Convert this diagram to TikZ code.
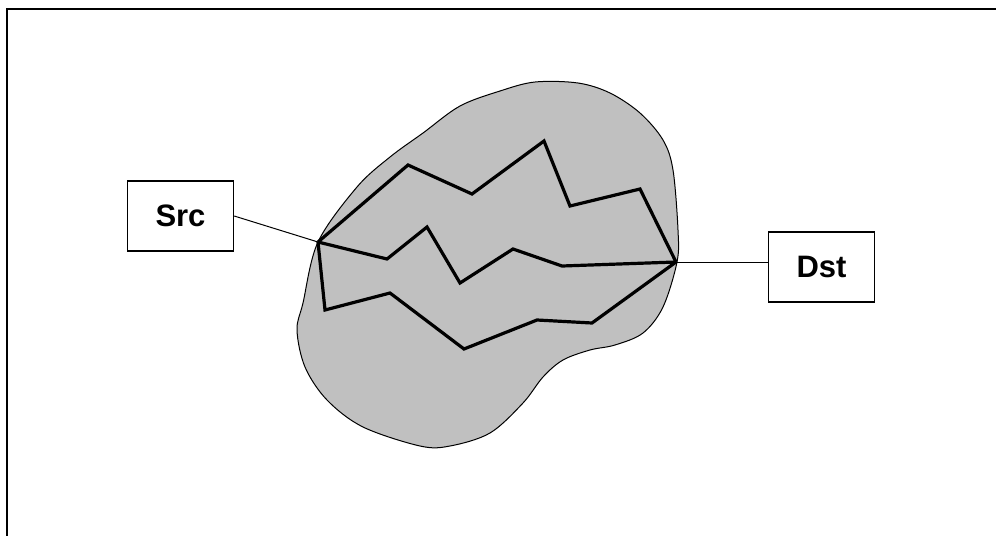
\documentclass[tikz,border=0pt]{standalone}
\usepackage{fontspec}
\setmainfont{Liberation Sans}
\usepackage{tikz}
\usetikzlibrary{calc}

\begin{document}
\begin{tikzpicture}[
    x=1pt, y=-1pt,
    every node/.style={font=\fontsize{31}{36}\selectfont\bfseries},
    endbox/.style={rectangle, draw, line width=1.4pt, fill=white,
      minimum width=106pt, minimum height=70pt, inner sep=0pt},
    region/.style={draw, line width=1pt, fill={rgb,255:red,192;green,192;blue,192}},
    route/.style={line width=3.2pt, line join=miter},
    link/.style={line width=1pt},
    frame/.style={line width=2pt}
]
\useasboundingbox (0,0) rectangle (996,536);
\draw[frame] (996,9) -| (7,536);

% network region
\draw[region] plot[smooth cycle, tension=0.55] coordinates {
  (318,242) (357,187) (390,157) (423,133) (460,106) (500,91) (535,82)
  (578,83) (610,93) (640,113) (663,140) (673,170) (678,230) (677,262)
  (663,307) (643,333) (615,345) (590,350) (563,360) (543,377) (523,403)
  (490,433) (450,446) (420,446) (363,427) (327,400) (305,367) (297,330)
  (303,303)};

\coordinate (srcpt) at (318,242);
\coordinate (dstpt) at (676,262);

% three routes
\draw[route] (srcpt) -- (408,165) -- (472,194) -- (544,141) -- (570,206)
  -- (640,189) -- (dstpt);
\draw[route] (srcpt) -- (387,259) -- (427,227) -- (460,283) -- (513,249)
  -- (562,266) -- (dstpt);
\draw[route] (srcpt) -- (325,310) -- (390,293) -- (464,349) -- (537,320)
  -- (592,323) -- (dstpt);

\node[endbox] (src) at (180.5,216) {Src};
\node[endbox] (dst) at (821.5,267) {Dst};

\draw[link] (src.east) -- (srcpt);
\draw[link] (dstpt) -- (dst.west |- dstpt);
\end{tikzpicture}
\end{document}
